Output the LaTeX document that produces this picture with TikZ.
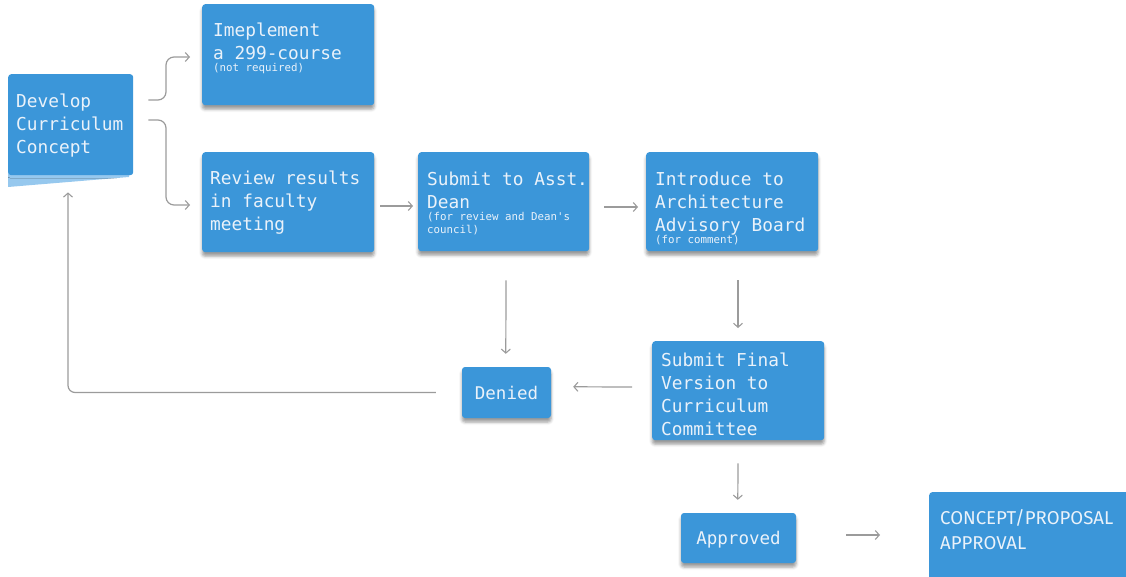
\documentclass[tikz,border=0pt]{standalone}
\usepackage{fontspec}
\newfontfamily\mono{DejaVu Sans Mono}
\newfontfamily\sansf{Fira Sans}
\usetikzlibrary{arrows.meta,calc,shadows.blur}
\definecolor{noteblue}{RGB}{59,150,217}
\definecolor{notetext}{RGB}{234,242,250}
\definecolor{conngray}{RGB}{155,155,155}
\definecolor{curl}{RGB}{150,200,238}
% #1 width, #2 height, #3 top pad, #4 left pad, #5 text
\newcommand{\nb}[5]{\parbox[b][#2][t]{#1}{\leftskip=#4\lineskiplimit=-100pt\vspace*{#3}#5}}
\newcommand{\subt}[1]{\par{\fontsize{10.8}{12.5}\selectfont#1\par}}
\tikzset{
  note/.style={fill=noteblue, text=notetext, anchor=north west, inner sep=0pt,
    rounded corners=3pt, font=\mono\fontsize{17.8}{23}\selectfont,
    blur shadow={shadow xshift=0pt, shadow yshift=-4pt, shadow blur radius=3pt, shadow opacity=40}},
  plainnote/.style={note, blur shadow={shadow xshift=0pt, shadow yshift=0pt, shadow opacity=0}},
  conn/.style={draw=conngray, line width=1.2pt, -{Straight Barb[length=4pt,width=9pt,line width=1.1pt]}},
}
\begin{document}
\begin{tikzpicture}[x=1pt,y=-1pt]
\useasboundingbox (0,0) rectangle (1126,577);

% Develop (with curled lighter strip)
\fill[curl] (8,172) -- (130,172) -- (129,177) -- (8,187) -- cycle;
\node[plainnote] (dev) at (8,74) {\nb{125pt}{101pt}{19.5pt}{8pt}{Develop\\Curriculum\\Concept}};

\node[note] (impl) at (202,4) {\nb{172pt}{101pt}{18.5pt}{11pt}{Imeplement\\a 299-course\subt{(not required)}}};
\node[note] (rev) at (202,152) {\nb{172pt}{100pt}{18.5pt}{8pt}{Review results\\in faculty\\meeting}};
\node[note] (sub) at (418,152) {\nb{171pt}{99pt}{19.5pt}{9pt}{Submit to Asst.\\Dean\subt{(for review and Dean's\\council)}}};
\node[note] (intro) at (646,152) {\nb{172pt}{99pt}{19.5pt}{9pt}{Introduce to\\Architecture\\Advisory Board\subt{(for comment)}}};
\node[note] (fin) at (652,341) {\nb{172pt}{99pt}{11.5pt}{9pt}{Submit Final\\Version to\\Curriculum\\Committee}};
\node[note, anchor=center, minimum width=89pt, minimum height=51pt, text depth=0pt, font=\mono\fontsize{17.5}{21}\selectfont] (den) at (506.5,392.5) {Denied};
\node[note, anchor=center, minimum width=115pt, minimum height=50pt, text depth=0pt, font=\mono\fontsize{17.5}{21}\selectfont] (app) at (738.5,538) {Approved};
\node[plainnote, font=\sansf\fontsize{18.6}{25}\selectfont] (con) at (929,492) {\nb{220pt}{110pt}{17pt}{11pt}{CONCEPT/PROPOSAL\\APPROVAL}};

% connectors
\draw[conn, rounded corners=8pt] ($(dev.north east)+(15,26)$) -| ($(impl.north west)+(-36,53)$) -- ($(impl.north west)+(-12,53)$);
\draw[conn, rounded corners=8pt] ($(dev.north east)+(15,46)$) -| ($(rev.north west)+(-36,53)$) -- ($(rev.north west)+(-12,53)$);
\draw[conn] ($(rev.north east)+(6,54)$) -- ($(sub.north west)+(-5,54)$);
\draw[conn] ($(sub.north east)+(15,55)$) -- ($(intro.north west)+(-8,55)$);
\draw[conn] ($(sub.south west)+(88,29)$) -- ($(den.north west)+(44,-13)$);
\draw[conn] ($(intro.south west)+(92,29)$) -- ($(fin.north west)+(86,-13)$);
\draw[conn] ($(fin.north west)+(-20,46)$) -- ($(den.north east)+(22,20)$);
\draw[conn] ($(fin.south west)+(86,23)$) -- ($(app.north west)+(57,-13)$);
\draw[conn] ($(app.east)+(50,-3)$) -- ($(con.north west)+(-49,43)$);
\draw[conn, rounded corners=7pt] ($(den.west)+(-26,0)$) -| ($(dev.south west)+(60,17)$);
\end{tikzpicture}
\end{document}
